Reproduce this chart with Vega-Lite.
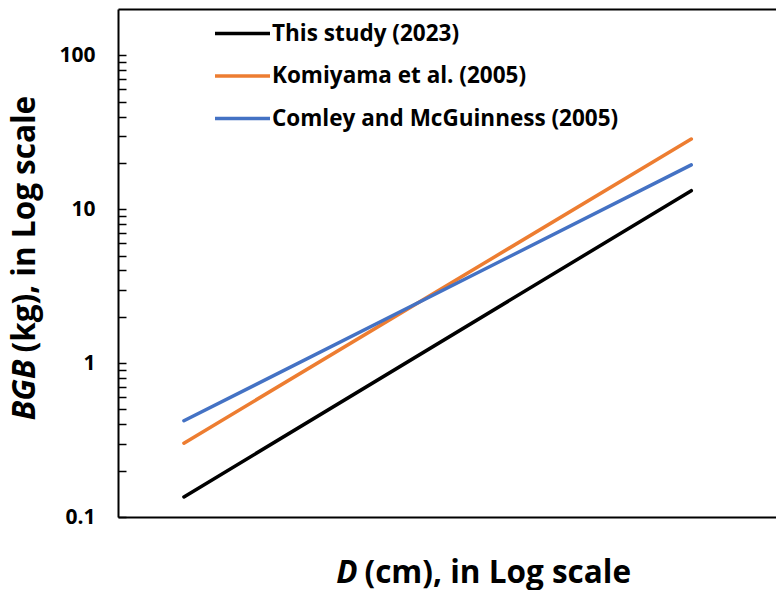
{
  "$schema": "https://vega.github.io/schema/vega-lite/v6.json",
  "width": 658,
  "height": 508,
  "autosize": {"type": "none"},
  "padding": {"left": 118, "top": 9, "right": 0, "bottom": 73},
  "background": "white",
  "config": {
    "view": {"stroke": null},
    "axis": {"grid": false, "domainColor": "black", "domainWidth": 2, "tickColor": "black", "titleColor": "black", "labelColor": "black"},
    "font": "Open Sans"
  },
  "data": {
    "values": [
      {"study": "This study (2023)", "D": 1.35, "BGB": 0.135},
      {"study": "This study (2023)", "D": 13.6, "BGB": 13.2},
      {"study": "Komiyama et al. (2005)", "D": 1.35, "BGB": 0.302},
      {"study": "Komiyama et al. (2005)", "D": 13.6, "BGB": 28.6},
      {"study": "Comley and McGuinness (2005)", "D": 1.35, "BGB": 0.422},
      {"study": "Comley and McGuinness (2005)", "D": 13.6, "BGB": 19.4}
    ]
  },
  "resolve": {"axis": {"x": "independent", "y": "independent"}},
  "layer": [
    {
      "transform": [{"filter": "datum.study === 'This study (2023)'"}],
      "mark": {"type": "line", "strokeWidth": 3.5, "strokeCap": "round"},
      "encoding": {
        "x": {
          "field": "D", "type": "quantitative",
          "scale": {"type": "log", "domain": [1, 20], "nice": false},
          "axis": {
            "orient": "bottom", "ticks": false, "labels": false,
            "title": "(cm), in Log scale",
            "titleFont": "Open Sans", "titleFontWeight": "bold", "titleFontSize": 31.5,
            "titleAlign": "left", "titleBaseline": "alphabetic",
            "titleX": 246, "titleY": 65
          }
        },
        "y": {
          "field": "BGB", "type": "quantitative",
          "scale": {"type": "log", "domain": [0.1, 200], "nice": false},
          "axis": {
            "orient": "left",
            "values": [0.1, 0.2, 0.3, 0.4, 0.5, 0.6, 0.7, 0.8, 0.9, 1, 2, 3, 4, 5, 6, 7, 8, 9, 10, 20, 30, 40, 50, 60, 70, 80, 90, 100],
            "format": "~g",
            "labelExpr": "datum.value == 0.1 || datum.value == 1 || datum.value == 10 || datum.value == 100 ? datum.label : ''",
            "tickSize": -8, "tickWidth": 1.5, "labelPadding": 31,
            "labelFont": "Open Sans", "labelFontWeight": "bold", "labelFontSize": 21,
            "labelOverlap": false,
            "title": "(kg), in Log scale",
            "titleFont": "Open Sans", "titleFontWeight": "bold", "titleFontSize": 31.5,
            "titleAngle": -90, "titleAlign": "left", "titleBaseline": "middle",
            "titleX": -93, "titleY": 343
          }
        },
        "color": {
          "field": "study", "type": "nominal",
          "scale": {
            "domain": ["This study (2023)", "Komiyama et al. (2005)", "Comley and McGuinness (2005)"],
            "range": ["#000000", "#ED7D31", "#4472C4"]
          },
          "legend": {
            "orient": "none", "legendX": 95, "legendY": -5,
            "title": null, "symbolType": "stroke", "symbolSize": 3025,
            "symbolStrokeWidth": 3.5, "labelOffset": 0, "rowPadding": 1.5,
            "labelFont": "Open Sans", "labelFontWeight": "bold", "labelFontSize": 22.5,
            "labelColor": "black", "labelLimit": 0, "padding": 0
          }
        }
      }
    },
    {
      "transform": [{"filter": "datum.study === 'Komiyama et al. (2005)'"}],
      "mark": {"type": "line", "strokeWidth": 3.5, "strokeCap": "round"},
      "encoding": {
        "x": {
          "field": "D", "type": "quantitative",
          "axis": {"orient": "top", "ticks": false, "labels": false, "title": null, "domainWidth": 2}
        },
        "y": {
          "field": "BGB", "type": "quantitative",
          "axis": {
            "orient": "left", "domain": false, "ticks": false, "labels": false,
            "title": "BGB",
            "titleFont": "Open Sans", "titleFontWeight": "bold", "titleFontStyle": "italic", "titleFontSize": 31.5,
            "titleAngle": -90, "titleAlign": "right", "titleBaseline": "middle",
            "titleX": -93, "titleY": 350
          }
        },
        "color": {"field": "study", "type": "nominal"}
      }
    },
    {
      "transform": [{"filter": "datum.study === 'Comley and McGuinness (2005)'"}],
      "mark": {"type": "line", "strokeWidth": 3.5, "strokeCap": "round"},
      "encoding": {
        "x": {
          "field": "D", "type": "quantitative",
          "axis": {
            "orient": "bottom", "domain": false, "ticks": false, "labels": false,
            "title": "D",
            "titleFont": "Open Sans", "titleFontWeight": "bold", "titleFontStyle": "italic", "titleFontSize": 31.5,
            "titleAlign": "right", "titleBaseline": "alphabetic",
            "titleX": 239, "titleY": 65
          }
        },
        "y": {"field": "BGB", "type": "quantitative", "axis": null},
        "color": {"field": "study", "type": "nominal"}
      }
    }
  ]
}
